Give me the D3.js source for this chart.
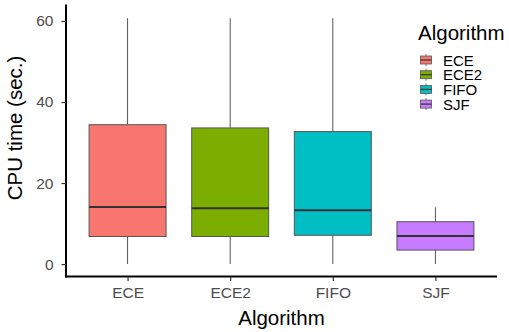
<!DOCTYPE html>
<html>
<head>
<meta charset="utf-8">
<script src="https://cdn.jsdelivr.net/npm/d3@7"></script>
<style>
  body { margin: 0; background: #fff; }
  text { font-family: "Liberation Sans", Arial, sans-serif; }
</style>
</head>
<body>
<svg id="chart" width="509" height="332"></svg>
<script>
// values
const algorithms = ["ECE", "ECE2", "FIFO", "SJF"];
const lowWhisker = [0, 0, 0, 0];
const q1 = [6.8, 6.8, 7.1, 3.45];
const median = [14.1, 13.75, 13.25, 6.9];
const q3 = [34.4, 33.6, 32.7, 10.45];
const highWhisker = [60.7, 60.7, 60.7, 14.0];
const colours = ["#F8766D", "#7CAE00", "#00BFC4", "#C77CFF"];
const yTicks = [0, 20, 40, 60];

const boxes = algorithms.map((a, i) => ({
  name: a, lo: lowWhisker[i], q1: q1[i], med: median[i], q3: q3[i], hi: highWhisker[i], col: colours[i]
}));

const svg = d3.select("#chart");
const plotL = 66, plotR = 497, plotT = 4.6, plotB = 276.4;

// ggplot style padding: 0.6 of a band on each side
const x = d3.scalePoint().domain(algorithms).range([plotL, plotR]).padding(0.6);
const step = x.step();
const boxW = step * 0.75;

const y = d3.scaleLinear().domain([-3.05, 64.05]).range([plotB, plotT]);

// axes
const yAxis = svg.append("g")
  .attr("transform", "translate(" + plotL + ",0)")
  .call(d3.axisLeft(y).tickValues(yTicks).tickSize(4.5).tickPadding(8));
const xAxis = svg.append("g")
  .attr("transform", "translate(0," + plotB + ")")
  .call(d3.axisBottom(x).tickSize(4.5).tickPadding(6));

[yAxis, xAxis].forEach(ax => {
  ax.select(".domain").attr("stroke", "#000").attr("stroke-width", 2);
  ax.selectAll(".tick line").attr("stroke", "#333").attr("stroke-width", 1.2);
  ax.selectAll(".tick text").attr("fill", "#4d4d4d").style("font-size", "15.5px");
});
yAxis.select(".domain").attr("d", "M0," + plotT + "V" + (plotB + 1));
xAxis.select(".domain").attr("d", "M" + (plotL - 1) + ",0H" + plotR);

// boxes
const g = svg.append("g");
const bx = g.selectAll("g.box").data(boxes).enter().append("g").attr("class", "box");

bx.append("line")
  .attr("x1", d => x(d.name)).attr("x2", d => x(d.name))
  .attr("y1", d => y(d.q3)).attr("y2", d => y(d.hi))
  .attr("stroke", "#555").attr("stroke-width", 1);
bx.append("line")
  .attr("x1", d => x(d.name)).attr("x2", d => x(d.name))
  .attr("y1", d => y(d.lo)).attr("y2", d => y(d.q1))
  .attr("stroke", "#555").attr("stroke-width", 1);
bx.append("rect")
  .attr("x", d => x(d.name) - boxW / 2)
  .attr("width", boxW)
  .attr("y", d => y(d.q3))
  .attr("height", d => y(d.q1) - y(d.q3))
  .attr("fill", d => d.col)
  .attr("stroke", "#555").attr("stroke-width", 1);
bx.append("line")
  .attr("x1", d => x(d.name) - boxW / 2).attr("x2", d => x(d.name) + boxW / 2)
  .attr("y1", d => y(d.med)).attr("y2", d => y(d.med))
  .attr("stroke", "#333").attr("stroke-width", 2);

// axis titles
svg.append("text")
  .attr("x", (plotL + plotR) / 2).attr("y", 325)
  .attr("text-anchor", "middle")
  .style("font-size", "20.5px")
  .text("Algorithm");

svg.append("text")
  .attr("transform", "translate(22,128)rotate(-90)")
  .attr("text-anchor", "middle")
  .style("font-size", "20.5px")
  .text("CPU time (sec.)");

// legend
const legend = svg.append("g").attr("transform", "translate(418,0)");
legend.append("text")
  .attr("x", 0).attr("y", 39.5)
  .style("font-size", "20.5px")
  .text("Algorithm");

const keys = legend.selectAll("g.key").data(boxes).enter().append("g")
  .attr("class", "key")
  .attr("transform", (d, i) => "translate(0," + (60 + i * 14.7) + ")");
keys.append("line")
  .attr("x1", 8).attr("x2", 8).attr("y1", -6).attr("y2", 6)
  .attr("stroke", "#555").attr("stroke-width", 0.8);
keys.append("rect")
  .attr("x", 2.5).attr("y", -4).attr("width", 11).attr("height", 8)
  .attr("fill", d => d.col).attr("stroke", "#555").attr("stroke-width", 0.8);
keys.append("line")
  .attr("x1", 2.5).attr("x2", 13.5).attr("y1", 0).attr("y2", 0)
  .attr("stroke", "#333").attr("stroke-width", 1.2);
keys.append("text")
  .attr("x", 25).attr("y", 5.5)
  .style("font-size", "15px")
  .text(d => d.name);
</script>
</body>
</html>
